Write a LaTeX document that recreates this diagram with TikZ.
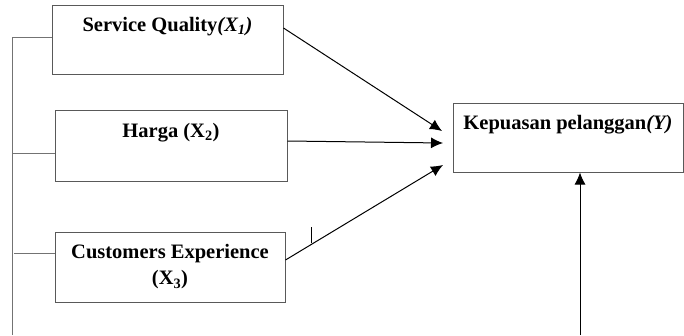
\documentclass[tikz,border=0pt]{standalone}
\usepackage{fontspec}
\setmainfont{Liberation Serif}
\usetikzlibrary{arrows.meta,calc}

\begin{document}
\begin{tikzpicture}[
  x=1pt, y=-1pt,
  box/.style={draw=black!65, line width=1pt, align=center, font=\fontsize{20.5}{26}\selectfont\bfseries, minimum width=231pt, minimum height=69pt},
  toptext/.style={text height=11pt, text depth=28pt},
  arrow/.style={-{Latex[length=12pt,width=11pt]}, line width=1pt},
  link/.style={draw=black!55, line width=1pt}
]
\useasboundingbox (0,0) rectangle (684,335);
% variables
\node[box, toptext] (x1) at (167.5,39.5) {Service Quality\textit{(X\textsubscript{1})}};
\node[box, toptext, minimum width=232pt, minimum height=71pt] (x2) at (171,145.5) {Harga (X\textsubscript{2})};
\node[box, minimum width=230pt, minimum height=70pt] (x3) at (170,267) {Customers Experience\\(X\textsubscript{3})};
\node[box, toptext, minimum width=230pt] (y) at (568,137.5) {Kepuasan pelanggan\textit{(Y)}};
% free ends
\coordinate (in1) at (442,131);
\coordinate (in2) at (443,143);
\coordinate (in3) at (443,165);
\coordinate (lbot) at (12,335);
\coordinate (rbot) at (580,335);
\coordinate (mka) at (311,227);
\coordinate (mkb) at (311,243);
% arrows
\draw[arrow] ([yshift=11.5pt]x1.east) -- (in1);
\draw[arrow] ([yshift=4.5pt]x2.east) -- (in2);
\draw[arrow] ([yshift=7pt]x3.east) -- (in3);
\draw[arrow] (rbot) -- (rbot |- y.south);
% left line
\draw[link] ([yshift=2.5pt]x1.west) -| (lbot);
\draw[link] ([yshift=-7.5pt]x2.west) -- +(-43,0);
\draw[link] ([yshift=14pt]x3.west) -- +(-41,0);
\draw[line width=0.8pt] (mka) -- (mkb);
\end{tikzpicture}
\end{document}
